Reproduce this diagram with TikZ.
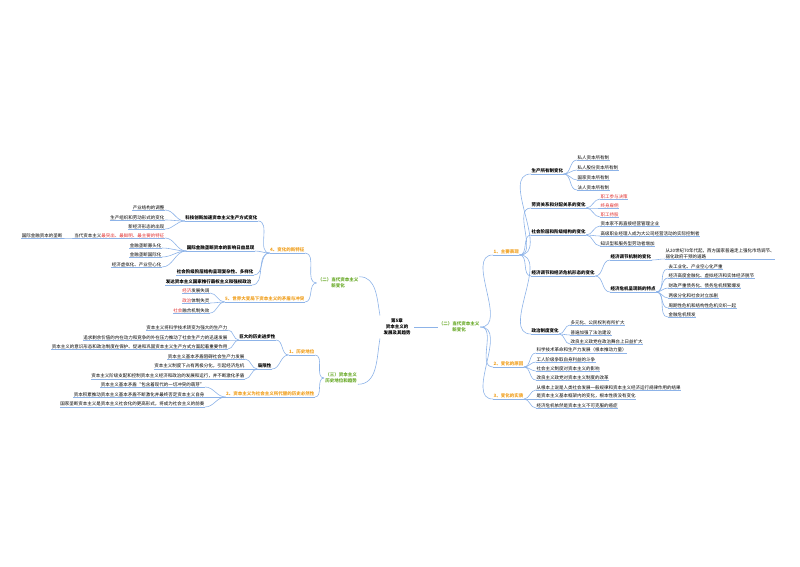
\documentclass[tikz,border=0pt]{standalone}
\usepackage{fontspec}
\setmainfont{Noto Sans CJK SC}
\definecolor{con}{HTML}{8DB3E8}
\definecolor{org}{HTML}{F0A020}
\definecolor{grn}{HTML}{6AAA2A}
\definecolor{rd}{HTML}{E03030}
\newcommand{\rr}[1]{\textcolor{rd}{#1}}
\tikzset{
 t/.style={inner sep=0.6pt,outer sep=0pt,font=\fontsize{4.5}{5.4}\selectfont,
   append after command={(\tikzlastnode.south west) edge[draw=con,line width=0.5pt] (\tikzlastnode.south east)}},
 b/.style={t,font=\fontsize{4.5}{5.4}\selectfont\bfseries},
 o/.style={t,text=org,font=\fontsize{4.5}{5.4}\selectfont\bfseries},
 g/.style={inner sep=1pt,text=grn,align=center,font=\fontsize{4.5}{5.8}\selectfont\bfseries},
 R/.style={anchor=south west}, L/.style={anchor=south east},
 c/.style={draw=con,line width=0.6pt},
}
\newcommand{\conR}[2]{\draw[c] (#1.south east) to[out=0,in=180] (#2.south west);}
\newcommand{\conL}[2]{\draw[c] (#1.south west) to[out=180,in=0] (#2.south east);}
\begin{document}
\begin{tikzpicture}[x=1pt,y=-1pt]
\useasboundingbox (0,0) rectangle (800,566);
\node[align=center,font=\fontsize{4.5}{5.8}\selectfont\bfseries] (root) at (397,327) {第5章\\资本主义的\\发展及其趋势};
% right
\node[g] (R) at (459,327) {（二）当代资本主义\\新变化};
\draw[c] (root.east) -- (R.west);
\node[o,R] (r1) at (493,255) {1、主要表现};
\node[o,R] (r2) at (493,367) {2、变化的原因};
\node[o,R] (r3) at (493,399) {3、变化的实质};
\foreach \k in {r1,r2,r3}{\draw[c] (R.east) to[out=0,in=180] (\k.south west);}
\node[b,R] (a1) at (531,174) {生产所有制变化};
\node[b,R] (a2) at (531,208) {劳资关系和分配关系的变化};
\node[b,R] (a3) at (531,235) {社会阶层和阶级结构的变化};
\node[b,R] (a4) at (531,276) {经济调节和经济危机形态的变化};
\node[b,R] (a5) at (531,334) {政治制度变化};
\foreach \k in {a1,a2,a3,a4,a5}{\conR{r1}{\k}}
\node[t,R] (a11) at (577,160) {私人资本所有制};
\node[t,R] (a12) at (577,170) {私人股份资本所有制};
\node[t,R] (a13) at (577,180) {国家资本所有制};
\node[t,R] (a14) at (577,190) {法人资本所有制};
\foreach \k in {a11,a12,a13,a14}{\conR{a1}{\k}}
\node[t,R,text=rd] (a21) at (600,199) {职工参与决策};
\node[t,R,text=rd] (a22) at (600,208) {终身雇佣};
\node[t,R,text=rd] (a23) at (600,217) {职工持股};
\foreach \k in {a21,a22,a23}{\conR{a2}{\k}}
\node[t,R] (a31) at (600,226) {资本家不再直接经营管理企业};
\node[t,R] (a32) at (600,236) {高级职业经理人成为大公司经营活动的实际控制者};
\node[t,R] (a33) at (600,246) {知识型和服务型劳动者增加};
\foreach \k in {a31,a32,a33}{\conR{a3}{\k}}
\node[b,R] (a41) at (610,260) {经济调节机制的变化};
\node[b,R] (a42) at (610,292) {经济危机呈现新的特点};
\foreach \k in {a41,a42}{\conR{a4}{\k}}
\node[t,R,align=left] (a411) at (665,259) {从20世纪70年代起，西方国家普遍走上强化市场调节、\\弱化政府干预的道路};
\conR{a41}{a411}
\node[t,R] (b1) at (668,269) {去工业化、产业空心化严重};
\node[t,R] (b2) at (668,278) {经济高度金融化、虚拟经济和实体经济脱节};
\node[t,R] (b3) at (668,288) {财政严重债务化、债务危机频繁爆发};
\node[t,R] (b4) at (668,298) {两极分化和社会对立加剧};
\node[t,R] (b5) at (668,308) {周期性危机和结构性危机交织一起};
\node[t,R] (b6) at (668,317) {金融危机频发};
\foreach \k in {b1,b2,b3,b4,b5,b6}{\conR{a42}{\k}}
\node[t,R] (a51) at (570,325) {多元化、公民权利有所扩大};
\node[t,R] (a52) at (570,335) {普遍加强了法治建设};
\node[t,R] (a53) at (570,344) {改良主义政党在政治舞台上日益扩大};
\foreach \k in {a51,a52,a53}{\conR{a5}{\k}}
\node[t,R] (c1) at (536,353) {科学技术革命和生产力发展（根本推动力量）};
\node[t,R] (c2) at (536,362) {工人阶级争取自身利益的斗争};
\node[t,R] (c3) at (536,371) {社会主义制度对资本主义的影响};
\node[t,R] (c4) at (536,380) {改良主义政党对资本主义制度的改革};
\foreach \k in {c1,c2,c3,c4}{\conR{r2}{\k}}
\node[t,R] (d1) at (536,390) {从根本上说是人类社会发展一般规律和资本主义经济运行规律作用的结果};
\node[t,R] (d2) at (536,399) {是资本主义基本框架内的变化，根本性质没有变化};
\node[t,R] (d3) at (536,408) {经济危机依然是资本主义不可克服的癌症};
\foreach \k in {d1,d2,d3}{\conR{r3}{\k}}
% left
\node[g] (L1) at (338,283) {（二）当代资本主义\\新变化};
\node[g] (L2) at (341,378) {（三）资本主义\\历史地位和趋势};
\draw[c] (root.north west) to[out=100,in=0] (L1.north east);
\draw[c] (root.south west) to[out=260,in=0] (L2.south east);
\node[o,L] (l4) at (305,253) {4、变化的新特征};
\node[o,L] (l5) at (305,302) {5、世界大变局下资本主义的矛盾与冲突};
\foreach \k in {l4,l5}{\draw[c] (L1.west) to[out=180,in=0] (\k.south east);}
\node[b,L] (e1) at (258,221) {科技创新加速资本主义生产方式变化};
\node[b,L] (e2) at (255,251) {国际金融垄断资本的影响日益显现};
\node[b,L] (e3) at (254,275) {社会阶级阶层结构呈现复杂性、多样化};
\node[b,L] (e4) at (252,285) {发达资本主义国家推行霸权主义和强权政治};
\foreach \k in {e1,e2,e3,e4}{\conL{l4}{\k}}
\node[t,L] (e11) at (165,210) {产业结构的调整};
\node[t,L] (e12) at (165,220) {生产组织和劳动形式的变化};
\node[t,L] (e13) at (165,229) {新经济形态的出现};
\foreach \k in {e11,e12,e13}{\conL{e1}{\k}}
\node[t,L] (e21) at (165,238) {当代资本主义\rr{最突出、最鲜明、最主要的特征}};
\node[t,L] (e22) at (162,248) {金融垄断寡头化};
\node[t,L] (e23) at (162,257) {金融垄断国际化};
\node[t,L] (e24) at (162,267) {经济虚拟化、产业空心化};
\foreach \k in {e21,e22,e23,e24}{\conL{e2}{\k}}
\node[t,L] (e211) at (63,238) {国际金融资本的垄断};
\conL{e21}{e211}
\node[t,L] (f1) at (210,293) {\rr{经济}发展失调};
\node[t,L] (f2) at (210,303) {\rr{政治}体制失灵};
\node[t,L] (f3) at (210,313) {\rr{社会}融合机制失效};
\foreach \k in {f1,f2,f3}{\conL{l5}{\k}}
\node[o,L] (m1) at (315,355) {1、历史地位};
\node[o,L] (m2) at (315,397) {2、资本主义为社会主义所代替的历史必然性};
\foreach \k in {m1,m2}{\draw[c] (L2.west) to[out=180,in=0] (\k.south east);}
\node[b,L] (n1) at (276,340) {巨大的历史进步性};
\node[b,L] (n2) at (272,369) {局限性};
\foreach \k in {n1,n2}{\conL{m1}{\k}}
\node[t,L] (n11) at (228,330) {资本主义将科学技术转变为强大的生产力};
\node[t,L] (n12) at (228,340) {追求剩余价值的内在动力和竞争的外在压力推动了社会生产力的迅速发展};
\node[t,L] (n13) at (228,349) {资本主义的意识形态和政治制度在保护、促进和巩固资本主义生产方式方面起着重要作用};
\foreach \k in {n11,n12,n13}{\conL{n1}{\k}}
\node[t,L] (n21) at (245,359) {资本主义基本矛盾阻碍社会生产力发展};
\node[t,L] (n22) at (245,369) {资本主义制度下占有两极分化，引起经济危机};
\node[t,L] (n23) at (245,379) {资本主义阶级支配和控制资本主义经济和政治的发展和运行，并不断激化矛盾};
\foreach \k in {n21,n22,n23}{\conL{n2}{\k}}
\node[t,L] (p1) at (205,387) {资本主义基本矛盾“包含着现代的一切冲突的萌芽”};
\node[t,L] (p2) at (205,397) {资本积累推动资本主义基本矛盾不断激化并最终否定资本主义自身};
\node[t,L] (p3) at (205,407) {国家垄断资本主义是资本主义社会化的更高形式，将成为社会主义的前奏};
\foreach \k in {p1,p2,p3}{\conL{m2}{\k}}
\end{tikzpicture}
\end{document}
